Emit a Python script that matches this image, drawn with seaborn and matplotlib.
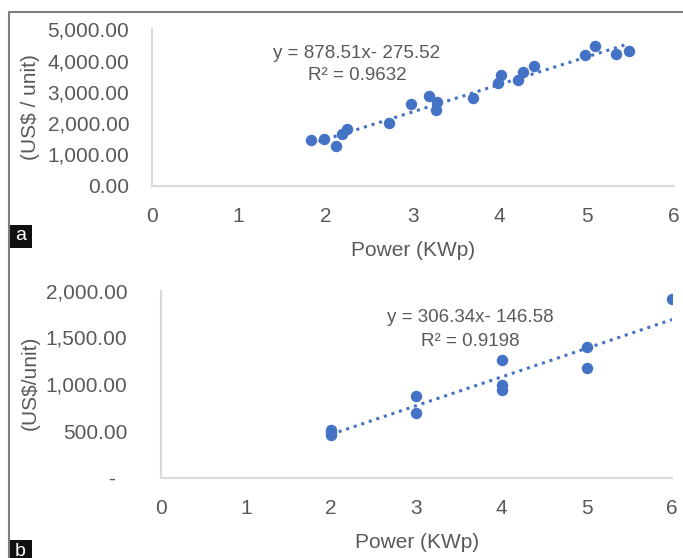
import numpy as np
import pandas as pd
import seaborn as sns
import matplotlib.pyplot as plt
from matplotlib.lines import Line2D
from matplotlib.patches import Rectangle
from matplotlib.ticker import FuncFormatter

# Panel a: unit price vs power
power_a = [1.83, 1.98, 2.12, 2.19, 2.24, 2.73, 2.98, 3.19, 3.28, 3.27,
           3.69, 3.98, 4.01, 4.21, 4.27, 4.39, 4.98, 5.09, 5.34, 5.48]
price_a = [1450, 1490, 1270, 1660, 1810, 2000, 2620, 2880, 2670, 2410,
           2810, 3280, 3550, 3390, 3650, 3840, 4180, 4460, 4210, 4310]
slope_a, icept_a = 878.51, -275.52

# Panel b: unit price vs power
power_b = [2, 2, 2, 3, 3, 4, 4, 4, 5, 5, 6]
price_b = [515, 485, 460, 879, 690, 1256, 989, 936, 1402, 1171, 1907]
slope_b, icept_b = 306.34, -146.58

df_a = pd.DataFrame({'power': power_a, 'price': price_a})
df_b = pd.DataFrame({'power': power_b, 'price': price_b})

sns.set_style('white')
plt.rcParams['font.family'] = ['Liberation Sans', 'DejaVu Sans']

blue = '#4472C4'
txt = '#595959'
axcol = '#D9D9D9'

fig = plt.figure(figsize=(6.83, 5.58), dpi=100)
ax_a = fig.add_axes([0.222, 0.6672, 0.7646, 0.2803])
ax_b = fig.add_axes([0.2353, 0.1434, 0.7486, 0.3357])


def style_axis(ax, df, slope, icept, ymax, ystep, ypad, zero_dash):
    sns.scatterplot(data=df, x='power', y='price', ax=ax, color=blue,
                    s=68, edgecolor=blue, linewidth=0, zorder=3)
    xs = np.array([df['power'].min(), df['power'].max()])
    ax.plot(xs, slope * xs + icept, color=blue, linestyle=(0, (1, 1.6)),
            linewidth=2.2, zorder=2)
    ax.set_xlim(0, 6)
    ax.set_ylim(0, ymax)
    ax.set_xticks(range(0, 7))
    ax.set_yticks(np.arange(0, ymax + 1, ystep))

    def fmt(v, pos):
        if zero_dash and v == 0:
            return '-  '
        return f'{v:,.2f}'
    ax.yaxis.set_major_formatter(FuncFormatter(fmt))
    ax.tick_params(axis='both', length=0, labelsize=15, labelcolor=txt)
    ax.tick_params(axis='x', pad=15)
    ax.tick_params(axis='y', pad=ypad)
    for side in ['top', 'right']:
        ax.spines[side].set_visible(False)
    for side in ['left', 'bottom']:
        ax.spines[side].set_color(axcol)
        ax.spines[side].set_linewidth(1.5)
    ax.set_xlabel('')
    ax.set_ylabel('')


style_axis(ax_a, df_a, slope_a, icept_a, 5000, 1000, 16, False)
style_axis(ax_b, df_b, slope_b, icept_b, 2000, 500, 24, True)

W, H = 683, 558


def fx(px):
    return px / W


def fy(py):
    return 1 - py / H


# equation labels
fig.text(fx(357), fy(53), 'y = 878.51x- 275.52', ha='center', va='center',
         fontsize=13.5, color=txt)
fig.text(fx(357), fy(76), 'R² = 0.9632', ha='center', va='center',
         fontsize=13.5, color=txt)
fig.text(fx(470), fy(318), 'y = 306.34x- 146.58', ha='center', va='center',
         fontsize=13.5, color=txt)
fig.text(fx(470), fy(342), 'R² = 0.9198', ha='center', va='center',
         fontsize=13.5, color=txt)

# axis labels
fig.text(fx(31), fy(107), '(US$ / unit)', rotation=90, ha='center',
         va='center', fontsize=15, color=txt)
fig.text(fx(30), fy(383), '(US$/unit)', rotation=90, ha='center',
         va='center', fontsize=15, color=txt)
fig.text(fx(413), fy(250), 'Power (KWp)', ha='center', va='center',
         fontsize=15, color=txt)
fig.text(fx(417), fy(542), 'Power (KWp)', ha='center', va='center',
         fontsize=15, color=txt)

# outer frame
fig.add_artist(Line2D([fx(9), fx(9)], [fy(12), 0], color='#7F7F7F',
                      linewidth=1.5, transform=fig.transFigure))
fig.add_artist(Line2D([fx(9), 1], [fy(12), fy(12)], color='#7F7F7F',
                      linewidth=1.5, transform=fig.transFigure))

# panel letters
for letter, top in [('a', 225), ('b', 540)]:
    fig.add_artist(Rectangle((fx(9), fy(top + 23)), fx(23), 23 / H,
                             facecolor='#111111', edgecolor='none',
                             transform=fig.transFigure))
    fig.text(fx(20.5), fy(top + 11), letter, ha='center', va='center',
             fontsize=14, color='white')

fig.savefig('out.png', dpi=100)
